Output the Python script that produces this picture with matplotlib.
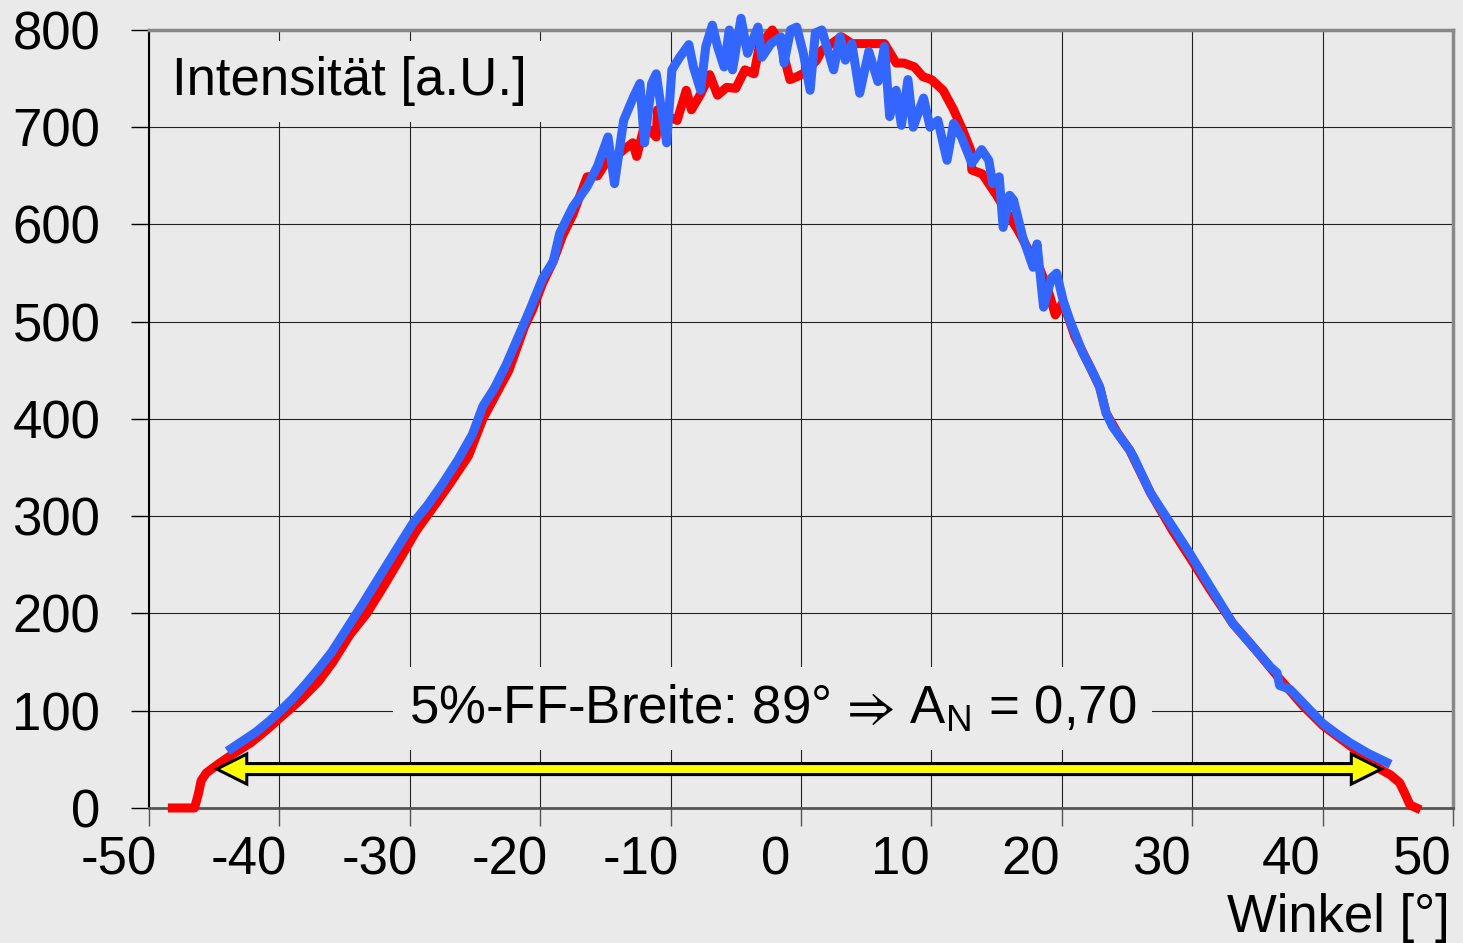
import matplotlib
matplotlib.use("Agg")
from matplotlib import pyplot as plt
from matplotlib.patches import Polygon
from matplotlib.transforms import ScaledTranslation, IdentityTransform

plt.rcParams['font.family'] = ['Liberation Sans', 'DejaVu Sans']
plt.rcParams['mathtext.fontset'] = 'custom'
plt.rcParams['mathtext.rm'] = 'Liberation Sans'

# Fernfeld-Profil, rot
red_x = [-48.2, -46.5, -46.2, -46.0, -45.6, -44.8, -43.5, -42.2, -41.0, -40.0,
         -38.4, -37.0, -35.9, -34.6, -33.3, -32.0, -30.5, -29.5, -28.0, -26.8,
         -25.5, -24.4, -23.4, -22.4, -21.2, -20.6, -19.8, -19.0, -18.3, -17.5,
         -16.4, -15.6, -14.9, -14.2, -13.5, -12.9, -12.6, -12.0, -11.1, -11.0,
         -10.3, -9.5, -8.8, -8.4, -7.7, -7.0, -6.4, -5.7, -5.0, -4.3,
         -3.6, -3.2, -2.2, -1.55, -0.85, -0.3, 0.4, 1.2, 1.6, 3.1,
         3.9, 4.95, 5.7, 6.4, 7.3, 7.9, 8.7, 9.35, 10.0, 10.9,
         11.7, 12.4, 13.0, 13.1, 13.9, 14.2, 15.0, 15.8, 16.6, 17.4,
         18.3, 19.0, 19.5, 20.1, 21.0, 22.0, 22.9, 23.4, 24.3, 25.2,
         26.8, 28.5, 29.8, 31.4, 33.1, 34.9, 36.5, 38.5, 40.0, 41.5,
         43.0, 44.4, 45.2, 45.9, 46.3, 46.7, 47.2]
red_y = [0, 0, 15, 28, 36, 44, 56, 67, 80, 92,
         111, 130, 150, 178, 200, 228, 262, 285, 313, 336,
         362, 400, 425, 450, 495, 512, 540, 562, 588, 610,
         649, 650, 665, 670, 678, 684, 670, 702, 690, 718,
         712, 707, 738, 718, 734, 754, 733, 741, 740, 759,
         755, 783, 800, 786, 749, 752, 757, 769, 779, 793,
         786, 786, 786, 786, 766, 766, 762, 752, 749, 738,
         718, 697, 677, 656, 652, 646, 630, 612, 595, 575,
         555, 530, 507, 520, 485, 458, 433, 406, 385, 368,
         324, 285, 258, 224, 190, 162, 136, 105, 85, 70,
         55, 40, 34, 26, 15, 3, 0]

# Fernfeld-Profil, blau
blue_x = [-43.7, -42.8, -41.8, -40.8, -40.0, -39.0, -38.0, -37.0, -36.0, -34.8,
          -33.6, -32.5, -31.2, -29.8, -28.6, -27.5, -26.3, -25.2, -24.4, -23.5,
          -22.6, -21.6, -20.8, -19.8, -19.0, -18.5, -17.5, -16.4, -15.6, -14.8,
          -14.3, -13.6, -12.85, -12.35, -12.0, -11.45, -11.1, -10.7, -10.3, -9.9,
          -9.3, -8.6, -8.25, -7.7, -7.3, -6.8, -6.4, -5.9, -5.5, -5.25,
          -4.6, -4.1, -3.3, -3.0, -2.3, -1.55, -1.3, -0.8, -0.33, 0.18,
          0.7, 1.1, 1.6, 2.5, 3.0, 3.4, 3.9, 4.5, 5.2, 5.9,
          6.4, 6.8, 7.3, 7.7, 8.2, 8.6, 9.4, 9.9, 10.5, 11.2,
          11.7, 12.3, 13.1, 13.85, 14.4, 14.7, 15.2, 15.5, 16.0, 16.3,
          17.0, 17.8, 18.1, 18.6, 19.2, 19.6, 20.1, 20.6, 21.6, 22.3,
          22.9, 23.4, 23.9, 25.2, 25.5, 26.8, 28.5, 29.8, 31.4, 33.1,
          34.9, 36.0, 36.5, 36.7, 37.5, 38.5, 40.0, 41.0, 42.1, 43.5,
          44.9]
blue_y = [61, 69, 78, 89, 99, 112, 127, 143, 160, 185,
          210, 234, 262, 292, 312, 333, 358, 384, 413, 432,
          456, 487, 512, 545, 562, 591, 618, 639, 660, 690,
          642, 707, 731, 745, 684, 745, 755, 718, 684, 759,
          772, 785, 762, 738, 783, 805, 783, 762, 800, 759,
          812, 776, 803, 772, 786, 793, 766, 800, 803, 776,
          738, 797, 800, 759, 793, 769, 786, 735, 778, 747,
          783, 711, 738, 702, 749, 700, 730, 700, 707, 666,
          704, 690, 663, 677, 666, 642, 649, 597, 630, 625,
          587, 556, 580, 515, 545, 550, 522, 502, 468, 450,
          433, 406, 392, 368, 361, 324, 289, 262, 227, 190,
          162, 145, 139, 126, 122, 108, 87, 77, 67, 56,
          47]

# 5%-Breite
arrow_x0 = -44.8
arrow_x1 = 44.5
arrow_y = 40

xticks = [-50, -40, -30, -20, -10, 0, 10, 20, 30, 40, 50]
yticks = [0, 100, 200, 300, 400, 500, 600, 700, 800]

bg = '#eaeaea'
fig = plt.figure(figsize=(14.63, 9.43), dpi=100, facecolor=bg)
ax = fig.add_axes([0.1018, 0.1432, 0.8914, 0.8250], facecolor=bg)

ax.plot(red_x, red_y, color='#ff0000', lw=6.5, solid_joinstyle='round', zorder=4, clip_on=False)
ax.plot(blue_x, blue_y, color='#3366ff', lw=6.5, solid_joinstyle='round', zorder=5, clip_on=False)

ax.set_xlim(-50, 50)
ax.set_ylim(0, 800)
ax.set_axisbelow(True)
ax.grid(True, color='#222222', lw=0.8)

ax.set_xticks(xticks, labels=[str(t) for t in xticks])
ax.set_yticks(yticks, labels=[str(t) for t in yticks])
ax.tick_params(axis='both', labelsize=38, direction='out', length=13, width=1.0)
ax.tick_params(axis='y', pad=22, colors='black')
ax.tick_params(axis='x', pad=7, color='#555555')

for lbl in ax.get_xticklabels():
    lbl.set_ha('right')
    t = lbl.get_text()
    dx = 8 if t.startswith('-') else (-11 if t == '0' else -2)
    lbl.set_transform(lbl.get_transform() + ScaledTranslation(dx / 100, 0, fig.dpi_scale_trans))

for side in ['top', 'right']:
    ax.spines[side].set_color('#888888')
    ax.spines[side].set_linewidth(2.5)
ax.spines['left'].set_color('black')
ax.spines['left'].set_linewidth(1.5)
ax.spines['bottom'].set_color('#555555')
ax.spines['bottom'].set_linewidth(2.0)

ax.text(0.0176, 0.916, 'Intensität [a.U.]', transform=ax.transAxes, fontsize=38,
        ha='left', va='baseline', zorder=3,
        bbox=dict(boxstyle='square,pad=0.3', facecolor=bg, edgecolor='none'))

ax.text(-2.2, 87, r'5%-FF-Breite: 89° $⇒$ $\mathregular{A_N}$ = 0,70',
        fontsize=38, ha='center', va='baseline', zorder=3,
        bbox=dict(boxstyle='square,pad=0.3', facecolor=bg, edgecolor='none'))

fig.text(0.991, 0.0117, 'Winkel [°]', fontsize=38, ha='right', va='baseline')

# Doppelpfeil in Pixelmassen
(lx, ly), (rx, ry) = ax.transData.transform([(arrow_x0, arrow_y), (arrow_x1, arrow_y)])
head_l, head_w, shaft_w = 30, 15, 5.5
pts = [(lx, ly), (lx + head_l, ly + head_w), (lx + head_l, ly + shaft_w),
       (rx - head_l, ry + shaft_w), (rx - head_l, ry + head_w), (rx, ry),
       (rx - head_l, ry - head_w), (rx - head_l, ry - shaft_w),
       (lx + head_l, ly - shaft_w), (lx + head_l, ly - head_w)]
arrow = Polygon(pts, closed=True, facecolor='#ffff00', edgecolor='black', lw=2.2,
                transform=IdentityTransform(), zorder=6)
fig.patches.append(arrow)
arrow.set_figure(fig)

fig.savefig('out.png', dpi=100, facecolor=bg)
